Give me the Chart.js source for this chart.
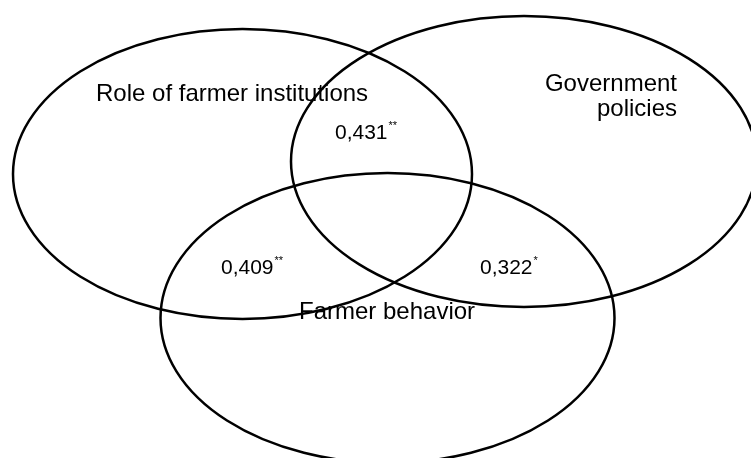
<!DOCTYPE html>
<html>
<head>
<meta charset="utf-8">
<script src="https://cdn.jsdelivr.net/npm/chart.js@4"></script>
<style>
  html, body { margin: 0; padding: 0; background: #ffffff; }
  #wrap { width: 751px; height: 458px; position: relative; }
</style>
</head>
<body>
<div id="wrap"><canvas id="c" width="751" height="458"></canvas></div>
<script>
// ---- Data (diagram coordinate space: x 0..751, y 0..458, y downward) ----
const setNames   = ['Role of farmer institutions', 'Government policies', 'Farmer behavior'];
const setCenterX = [242.5, 524, 387.5];
const setCenterY = [174, 161.5, 318];
const setRadiusX = [229.5, 233, 227];
const setRadiusY = [145, 145.5, 145];

// set labels (lines, anchor x, baseline y, alignment)
const labelLines = [['Role of farmer institutions'], ['Government', 'policies'], ['Farmer behavior']];
const labelX     = [96, 677, 299];
const labelY     = [101, 91, 319];
const labelAlign = ['left', 'right', 'left'];

// pairwise correlations
const corrValues = ['0,431', '0,409', '0,322'];
const corrSig    = ['**', '**', '*'];
const corrX      = [335, 221, 480];
const corrY      = [139, 274, 274];

const ellipsePlugin = {
  id: 'venn',
  afterDatasetsDraw(chart) {
    const ctx = chart.ctx;
    const xs = chart.scales.x, ys = chart.scales.y;
    ctx.save();
    // ellipses
    ctx.strokeStyle = '#000';
    ctx.lineWidth = 2.5;
    for (let i = 0; i < setCenterX.length; i++) {
      const cx = xs.getPixelForValue(setCenterX[i]);
      const cy = ys.getPixelForValue(setCenterY[i]);
      const rx = Math.abs(xs.getPixelForValue(setCenterX[i] + setRadiusX[i]) - cx);
      const ry = Math.abs(ys.getPixelForValue(setCenterY[i] + setRadiusY[i]) - cy);
      ctx.beginPath();
      ctx.ellipse(cx, cy, rx, ry, 0, 0, Math.PI * 2);
      ctx.stroke();
    }
    // set labels
    ctx.fillStyle = '#000';
    ctx.textBaseline = 'alphabetic';
    ctx.font = '24px "Liberation Sans", Arial, sans-serif';
    for (let i = 0; i < labelLines.length; i++) {
      ctx.textAlign = labelAlign[i];
      const px = xs.getPixelForValue(labelX[i]);
      labelLines[i].forEach((line, j) => {
        const py = ys.getPixelForValue(labelY[i] + j * 25);
        ctx.fillText(line, px, py);
      });
    }
    // correlations
    ctx.textAlign = 'left';
    for (let i = 0; i < corrValues.length; i++) {
      const px = xs.getPixelForValue(corrX[i]);
      const py = ys.getPixelForValue(corrY[i]);
      ctx.font = '21px "Liberation Sans", Arial, sans-serif';
      ctx.fillText(corrValues[i], px, py);
      const w = ctx.measureText(corrValues[i]).width;
      ctx.font = '11px "Liberation Sans", Arial, sans-serif';
      ctx.fillText(corrSig[i], px + w + 1, ys.getPixelForValue(corrY[i] - 10));
    }
    ctx.restore();
  }
};

new Chart(document.getElementById('c'), {
  type: 'scatter',
  data: {
    datasets: [{
      label: 'centers',
      data: setCenterX.map((x, i) => ({ x: x, y: setCenterY[i] })),
      pointRadius: 0,
      showLine: false
    }]
  },
  options: {
    responsive: false,
    animation: false,
    layout: { padding: 0 },
    plugins: { legend: { display: false }, tooltip: { enabled: false } },
    scales: {
      x: { type: 'linear', min: 0, max: 751, display: false },
      y: { type: 'linear', min: 0, max: 458, reverse: true, display: false }
    }
  },
  plugins: [ellipsePlugin]
});
</script>
</body>
</html>
